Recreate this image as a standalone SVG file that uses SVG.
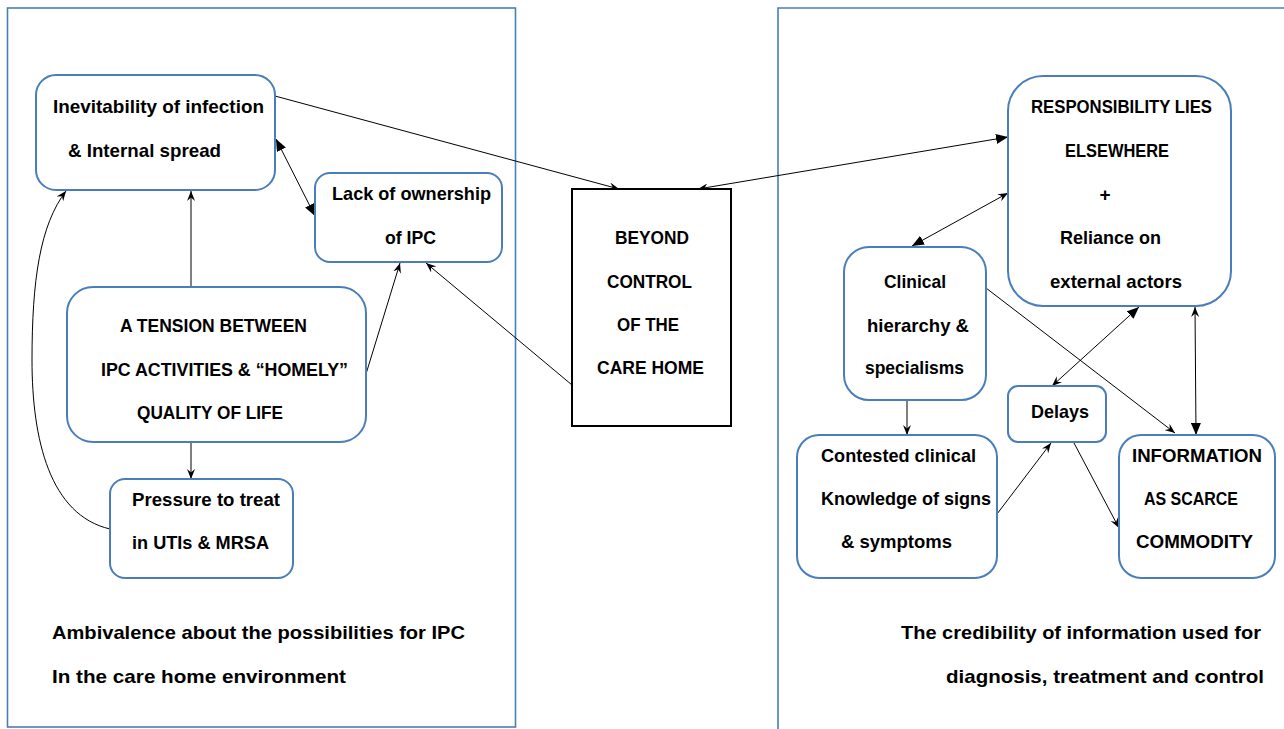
<svg xmlns="http://www.w3.org/2000/svg" width="1284" height="729" viewBox="0 0 1284 729">
<style>
.panel{fill:none;stroke:#4a7ebb;stroke-width:1.6}
.box{fill:#fff;stroke:#4a7ebb;stroke-width:2}
.sq{fill:#fff;stroke:#000;stroke-width:2}
.t{font-family:"Liberation Sans",Arial,sans-serif;font-weight:bold;font-size:19px;fill:#000}
.c{fill:none;stroke:#000;stroke-width:1}
.o{marker-end:url(#open)}
</style>
<defs>
<marker id="open" viewBox="0 0 10 8" refX="10" refY="4" markerWidth="10" markerHeight="8" markerUnits="userSpaceOnUse" orient="auto-start-reverse">
<path d="M0,0 L10,4 L0,8 L3.5,4 z" fill="#000"/>
</marker>
<marker id="fill" viewBox="0 0 12 10" refX="12" refY="5" markerWidth="12" markerHeight="10" markerUnits="userSpaceOnUse" orient="auto-start-reverse">
<path d="M0,0 L12,5 L0,10 z" fill="#000"/>
</marker>
</defs>
<rect class="panel" x="7.5" y="8" width="508" height="719"/>
<path class="panel" d="M778,735 L778,8 L1290,8"/>
<g id="connectors">
<path class="c o" d="M275,96 L619,189"/>
<path class="c" d="M698,189 L1008,137" marker-start="url(#open)" marker-end="url(#fill)"/>
<path class="c" d="M276,139 L315,216" marker-start="url(#fill)" marker-end="url(#fill)"/>
<path class="c o" d="M191,287 L191,191"/>
<path class="c o" d="M366,374 L400,263"/>
<path class="c o" d="M572,385 L426,263"/>
<path class="c o" d="M191,442 L191,479"/>
<path class="c o" d="M110,529 C50,515 32,440 32,360 C32,280 40,225 66,191"/>
<path class="c" d="M1008,193 L912,246" marker-start="url(#open)" marker-end="url(#fill)"/>
<path class="c o" d="M986,288 L1175,433"/>
<path class="c" d="M1139,307 L1052,386" marker-start="url(#fill)" marker-end="url(#open)"/>
<path class="c" d="M1195,307 L1196,435" marker-start="url(#open)" marker-end="url(#fill)"/>
<path class="c o" d="M907,400 L907,435"/>
<path class="c o" d="M997,514 L1051,443"/>
<path class="c o" d="M1074,443 L1119,528"/>
</g>
<g id="inevitability">
<rect class="box" x="36" y="75" width="239" height="115" rx="20"/>
<text class="t" x="53" y="113" textLength="211" lengthAdjust="spacingAndGlyphs">Inevitability of infection</text>
<text class="t" x="68" y="157" textLength="153" lengthAdjust="spacingAndGlyphs">&amp; Internal spread</text>
</g>
<g id="lack-ownership">
<rect class="box" x="315" y="173" width="187" height="89" rx="15"/>
<text class="t" x="332" y="200" textLength="159" lengthAdjust="spacingAndGlyphs">Lack of ownership</text>
<text class="t" x="385" y="244" textLength="51" lengthAdjust="spacingAndGlyphs">of IPC</text>
</g>
<g id="tension">
<rect class="box" x="67" y="287" width="299" height="155" rx="26"/>
<text class="t" x="120" y="332" textLength="187" lengthAdjust="spacingAndGlyphs">A TENSION BETWEEN</text>
<text class="t" x="101" y="376" textLength="247" lengthAdjust="spacingAndGlyphs">IPC ACTIVITIES &amp; “HOMELY”</text>
<text class="t" x="137" y="419" textLength="146" lengthAdjust="spacingAndGlyphs">QUALITY OF LIFE</text>
</g>
<g id="pressure">
<rect class="box" x="110" y="479" width="183" height="99" rx="15"/>
<text class="t" x="132" y="506" textLength="148" lengthAdjust="spacingAndGlyphs">Pressure to treat</text>
<text class="t" x="132" y="549" textLength="137" lengthAdjust="spacingAndGlyphs">in UTIs &amp; MRSA</text>
</g>
<g id="beyond-control">
<rect class="sq" x="572" y="189" width="159" height="237"/>
<text class="t" x="615" y="244" textLength="74" lengthAdjust="spacingAndGlyphs">BEYOND</text>
<text class="t" x="607" y="288" textLength="85" lengthAdjust="spacingAndGlyphs">CONTROL</text>
<text class="t" x="617" y="331" textLength="62" lengthAdjust="spacingAndGlyphs">OF THE</text>
<text class="t" x="597" y="374" textLength="107" lengthAdjust="spacingAndGlyphs">CARE HOME</text>
</g>
<g id="responsibility">
<rect class="box" x="1008" y="76" width="223" height="230" rx="35"/>
<text class="t" x="1031" y="113" textLength="181" lengthAdjust="spacingAndGlyphs">RESPONSIBILITY LIES</text>
<text class="t" x="1065" y="157" textLength="104" lengthAdjust="spacingAndGlyphs">ELSEWHERE</text>
<text class="t" x="1105" y="201" text-anchor="middle">+</text>
<text class="t" x="1060" y="244" textLength="101" lengthAdjust="spacingAndGlyphs">Reliance on</text>
<text class="t" x="1050" y="288" textLength="132" lengthAdjust="spacingAndGlyphs">external actors</text>
</g>
<g id="clinical-hierarchy">
<rect class="box" x="844" y="247" width="142" height="153" rx="25"/>
<text class="t" x="884" y="288" textLength="62" lengthAdjust="spacingAndGlyphs">Clinical</text>
<text class="t" x="867" y="332" textLength="102" lengthAdjust="spacingAndGlyphs">hierarchy &amp;</text>
<text class="t" x="865" y="374" textLength="99" lengthAdjust="spacingAndGlyphs">specialisms</text>
</g>
<g id="delays">
<rect class="box" x="1008" y="386" width="98" height="56" rx="10"/>
<text class="t" x="1031" y="418" textLength="58" lengthAdjust="spacingAndGlyphs">Delays</text>
</g>
<g id="contested">
<rect class="box" x="797" y="435" width="200" height="143" rx="22"/>
<text class="t" x="821" y="462" textLength="155" lengthAdjust="spacingAndGlyphs">Contested clinical</text>
<text class="t" x="821" y="505" textLength="170" lengthAdjust="spacingAndGlyphs">Knowledge of signs</text>
<text class="t" x="841" y="548" textLength="111" lengthAdjust="spacingAndGlyphs">&amp; symptoms</text>
</g>
<g id="information">
<rect class="box" x="1119" y="435" width="156" height="143" rx="22"/>
<text class="t" x="1132" y="462" textLength="130" lengthAdjust="spacingAndGlyphs">INFORMATION</text>
<text class="t" x="1144" y="505" textLength="94" lengthAdjust="spacingAndGlyphs">AS SCARCE</text>
<text class="t" x="1136" y="548" textLength="117" lengthAdjust="spacingAndGlyphs">COMMODITY</text>
</g>
<g id="captions">
<text class="t" x="52" y="639" textLength="413" lengthAdjust="spacingAndGlyphs">Ambivalence about the possibilities for IPC</text>
<text class="t" x="52" y="683" textLength="294" lengthAdjust="spacingAndGlyphs">In the care home environment</text>
<text class="t" x="901" y="639" textLength="360" lengthAdjust="spacingAndGlyphs">The credibility of information used for</text>
<text class="t" x="946" y="683" textLength="318" lengthAdjust="spacingAndGlyphs">diagnosis, treatment and control</text>
</g>
</svg>
